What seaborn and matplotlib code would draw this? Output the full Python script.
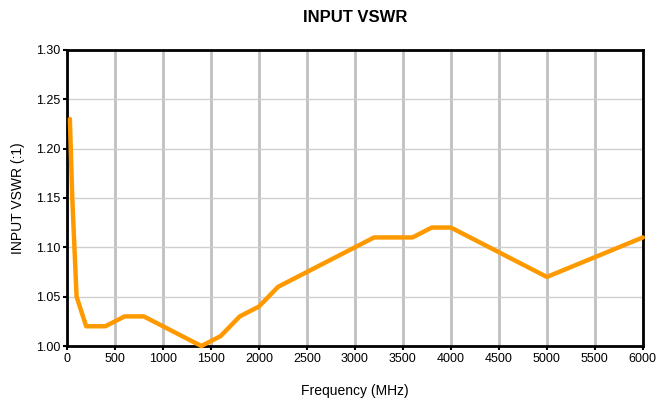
import numpy as np
import pandas as pd
import matplotlib
matplotlib.use("Agg")
import matplotlib.pyplot as plt
import seaborn as sns

# 주파수(MHz)와 VSWR 값
freq = [30, 55, 100, 200, 400, 600, 800, 1400, 1600, 1800, 2000, 2200,
        3200, 3600, 3800, 4000, 5000, 6000]
vswr = [1.23, 1.15, 1.05, 1.02, 1.02, 1.03, 1.03, 1.00, 1.01, 1.03, 1.04, 1.06,
        1.11, 1.11, 1.12, 1.12, 1.07, 1.11]
x_ticks = list(range(0, 6001, 500))
y_ticks = [1.00, 1.05, 1.10, 1.15, 1.20, 1.25, 1.30]

df = pd.DataFrame({"freq": freq, "vswr": vswr})

sns.set_style("white")
plt.rcParams['font.family'] = ['Liberation Sans', 'DejaVu Sans']
plt.rcParams['text.color'] = 'black'
plt.rcParams['axes.labelcolor'] = 'black'
plt.rcParams['xtick.color'] = 'black'
plt.rcParams['ytick.color'] = 'black'

fig = plt.figure(figsize=(6.6, 4.09), dpi=100)
ax = fig.add_axes([0.1015, 0.154, 0.8725, 0.724])

sns.lineplot(data=df, x="freq", y="vswr", ax=ax, color="#FF9900",
             linewidth=3.2, sort=False, clip_on=False, zorder=3)

ax.set_xlim(0, 6000)
ax.set_ylim(1.00, 1.30)
ax.set_xticks(x_ticks)
ax.set_xticklabels([str(t) for t in x_ticks], fontsize=9)
ax.set_yticks(y_ticks)
ax.set_yticklabels(["%.2f" % t for t in y_ticks], fontsize=9)

# 격자: 세로선은 굵게, 가로선은 얇게
ax.grid(axis="x", color="#c0c0c0", linewidth=2)
ax.grid(axis="y", color="#d0d0d0", linewidth=1)
ax.set_axisbelow(True)

for s in ax.spines.values():
    s.set_color("black")
    s.set_linewidth(2)
ax.tick_params(axis="both", direction="out", length=3, width=1.5, color="black",
               labelcolor="black", left=True, bottom=True, pad=2)

ax.set_title("INPUT VSWR", fontsize=12, fontweight="bold", pad=20, color="black")
ax.set_xlabel("Frequency (MHz)", fontsize=10, labelpad=14, color="black")
ax.set_ylabel("INPUT VSWR (:1)", fontsize=10, labelpad=8, color="black")

fig.savefig("out.png", dpi=100)
